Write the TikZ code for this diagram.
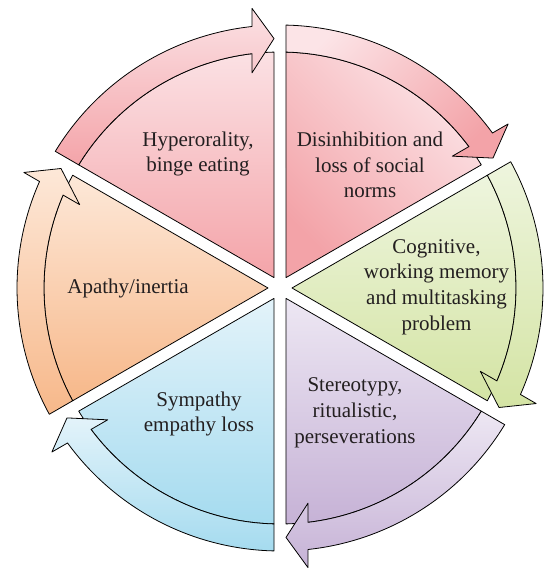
\documentclass[tikz,border=0pt]{standalone}
\usepackage{fontspec}
\setmainfont{Liberation Serif}
\definecolor{hyT}{HTML}{FBE1E4}
\definecolor{hyB}{HTML}{F4A4A9}
\definecolor{diL}{HTML}{FCE4E7}
\definecolor{diD}{HTML}{F3A3A8}
\definecolor{coT}{HTML}{EEF5DE}
\definecolor{coB}{HTML}{D4E4A4}
\definecolor{stT}{HTML}{EDE7F3}
\definecolor{stB}{HTML}{C6B2D6}
\definecolor{syT}{HTML}{E3F3FA}
\definecolor{syB}{HTML}{A5DBEF}
\definecolor{apT}{HTML}{FDE8D8}
\definecolor{apB}{HTML}{F7B88A}
\definecolor{txt}{HTML}{231F20}
\newcommand{\mysector}[7]{%
\pgfmathsetmacro{\sbis}{#1+30}%
\pgfmathsetmacro{\sa}{#1+asin(6/236)}%
\pgfmathsetmacro{\sb}{#1+60-asin(6/236)}%
\pgfmathsetmacro{\so}{#1+60-asin(6/263)}%
\pgfmathsetmacro{\nA}{#1+asin(28/263)}%
\pgfmathsetmacro{\nB}{#1+asin(28/281)}%
\pgfmathsetmacro{\nT}{#1+asin(6/249.5)}%
\pgfmathsetmacro{\nC}{#1+asin(28/217)}%
\pgfmathsetmacro{\nD}{#1+asin(28/236)}%
\path[outl, top color=#2, bottom color=#3, shading angle=#4] (\sbis:12pt) -- (\sa:236pt) arc[start angle=\sa, end angle=\sb, radius=236pt] -- cycle;
\path[outl, top color=#5, bottom color=#6, shading angle=#7] (\so:263pt) arc[start angle=\so, end angle=\nA, radius=263pt] -- (\nB:281pt) -- (\nT:249.5pt) -- (\nC:217pt) -- (\nD:236pt) arc[start angle=\nD, end angle=\sb, radius=236pt] -- cycle;
}
\begin{document}
\begin{tikzpicture}[x=1pt,y=1pt,line join=round,
  outl/.style={draw=black, line width=0.8pt},
  lbl/.style={align=center, font=\fontsize{21}{25.8}\selectfont, text=txt, inner sep=0pt}]
\useasboundingbox (0,0) rectangle (546,571);
\begin{scope}[shift={(280pt,283pt)}]
\mysector{90}{hyT}{hyB}{0}{hyT}{hyB}{0}
\mysector{30}{diL}{diD}{-45}{diL}{diD}{45}
\mysector{-30}{coT}{coB}{0}{coT}{coB}{0}
\mysector{-90}{stT}{stB}{0}{stT}{stB}{0}
\mysector{210}{syT}{syB}{0}{syT}{syB}{0}
\mysector{150}{apT}{apB}{0}{apT}{apB}{0}
\end{scope}
\node[lbl] (hyp) at (198,417) {Hyperorality,\\binge eating};
\node[lbl] (dis) at (370,406) {Disinhibition and\\loss of social\\norms};
\node[lbl] (cog) at (436.5,284) {Cognitive,\\working memory\\and multitasking\\problem};
\node[lbl] (ste) at (355,158) {Stereotypy,\\ritualistic,\\perseverations};
\node[lbl] (sym) at (199,157) {Sympathy\\empathy loss};
\node[lbl] (apa) at (128,283) {Apathy/inertia};
\end{tikzpicture}
\end{document}
